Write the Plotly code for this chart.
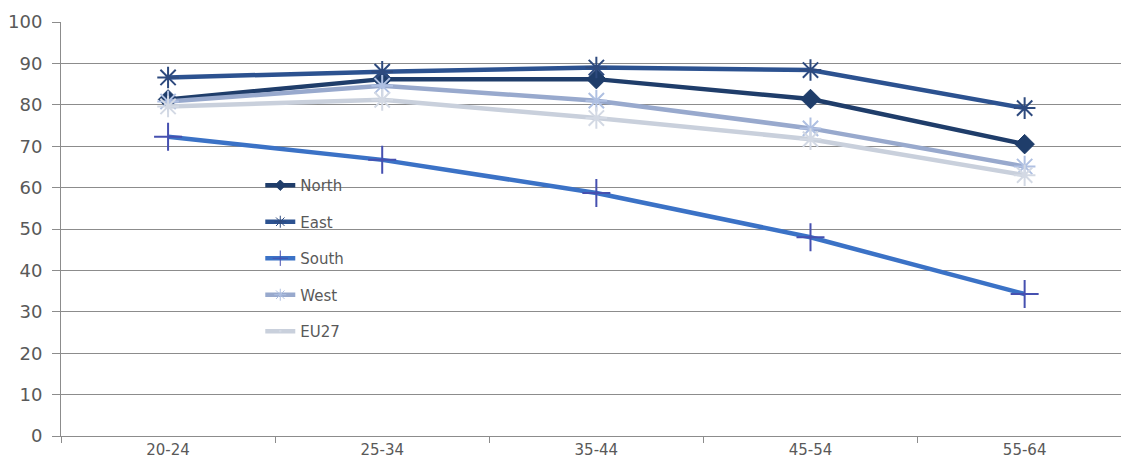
import plotly.graph_objects as go

categories = ["20-24", "25-34", "35-44", "45-54", "55-64"]
north = [81.3, 86.2, 86.2, 81.4, 70.5]
east = [86.6, 88.0, 89.0, 88.4, 79.2]
south = [72.3, 66.7, 58.7, 48.0, 34.3]
west = [80.8, 84.6, 81.0, 74.3, 65.1]
eu27 = [79.6, 81.2, 76.8, 71.7, 63.0]

series = [
    ("North", north, "#1F3D6A", "diamond", 15, "#1F3D6A", 1, 8),
    ("East", east, "#2C5290", "asterisk-open", 18, "#2E4A7E", 2, 10),
    ("South", south, "#3B72C6", "cross-thin-open", 20, "#4650B0", 2, 11),
    ("West", west, "#98A9CD", "asterisk-open", 18, "#AFC0E2", 2, 10),
    ("EU27", eu27, "#C9D0DC", "asterisk-open", 18, "#D3D9E4", 2, 1),
]

fig = go.Figure()
for name, vals, color, sym, size, mcol, mw, lsize in series:
    fig.add_trace(go.Scatter(
        x=categories, y=vals, name=name, mode="lines+markers",
        legendgroup=name, showlegend=False,
        line=dict(color=color, width=4.5),
        marker=dict(symbol=sym, size=size, color=mcol,
                    line=dict(color=mcol, width=mw)),
    ))
    # legend entry with small marker (as in the reference legend)
    fig.add_trace(go.Scatter(
        x=[None], y=[None], name=name, mode="lines+markers",
        legendgroup=name, showlegend=True, hoverinfo="skip",
        line=dict(color=color, width=4.5),
        marker=dict(symbol=sym, size=lsize, color=mcol,
                    line=dict(color=mcol, width=1)),
    ))

fig.update_layout(
    width=1121, height=470,
    margin=dict(l=61, r=0, t=22, b=34),
    paper_bgcolor="white", plot_bgcolor="white",
    font=dict(family="DejaVu Sans", color="#595959", size=16),
    showlegend=True,
    legend=dict(x=0.188, y=0.645, xanchor="left", yanchor="top",
                bgcolor="rgba(0,0,0,0)", font=dict(size=15, color="#595959"),
                tracegroupgap=14),
    xaxis=dict(
        type="category", range=[-0.5, 4.45],
        showgrid=False, showline=True, linecolor="#8C8C8C", linewidth=1,
        ticks="outside", tickson="boundaries", ticklen=6, tickcolor="#8C8C8C",
        tickfont=dict(size=15, color="#595959"),
    ),
    yaxis=dict(
        range=[0, 100], dtick=10, showgrid=True, gridcolor="#8C8C8C", gridwidth=1,
        showline=True, linecolor="#8C8C8C", linewidth=1,
        ticks="outside", ticklen=8, tickcolor="#8C8C8C", ticklabelstandoff=6,
        tickfont=dict(size=18, color="#595959"), zeroline=False,
    ),
)

fig.write_html("out.html", config={"displayModeBar": False},
               post_script="document.body.style.margin='0';document.body.style.overflow='hidden';")
